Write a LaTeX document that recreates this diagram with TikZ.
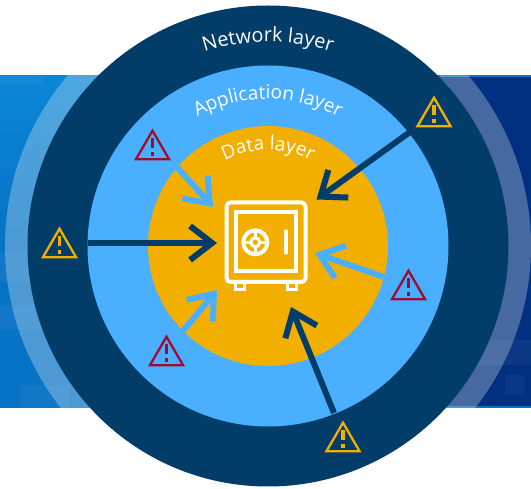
\documentclass[tikz,border=0pt]{standalone}
\usepackage{fontspec}
\setmainfont{Open Sans}
\usetikzlibrary{arrows.meta,decorations.text}
\definecolor{navy}{HTML}{023D6A}
\definecolor{skyb}{HTML}{4BAFFF}
\definecolor{gold}{HTML}{F2AF00}
\definecolor{crimson}{HTML}{9B0F2E}
\definecolor{bandL}{HTML}{0773C4}
\definecolor{bandLt}{HTML}{0B86D6}
\definecolor{bandR}{HTML}{00307F}
\tikzset{
  threat/.style={line width=6pt,-{Straight Barb[length=22pt,width=34pt,line width=6pt]}},
  outerthreat/.style={threat,draw=navy},
  innerthreat/.style={threat,draw=skyb},
  safeline/.style={draw=white,line width=4pt},
  streak/.style={fill=white,opacity=.04},
  warnicon/.pic={
    \draw[line width=2.3pt,pic actions,fill=none,miter limit=10] (-16.6,-1.2) -- (0,-29.8) -- (16.6,-1.2) -- cycle;
    \fill[pic actions,draw=none] (-1.7,-22) rectangle (1.7,-12);
    \fill[pic actions,draw=none] (-1.7,-8) rectangle (1.7,-4);
  },
  layertext/.style 2 args={decorate,decoration={text along path,text align=center,
    text={|\fontsize{#1}{#1}\selectfont\color{white}|#2}}}
}
\begin{document}
\begin{tikzpicture}[x=1pt,y=-1pt]
\useasboundingbox (0,0) rectangle (531,489);
% band
\shade[top color=bandLt,bottom color=bandL,middle color=bandL] (0,75) rectangle (268,408);
\fill[bandR] (268,75) rectangle (531,408);
\fill[streak] (0,75) rectangle (43,84);
\fill[streak] (0,252) rectangle (40,282);
\fill[streak] (0,305) rectangle (60,330);
\fill[streak] (20,385) rectangle (70,408);
\fill[streak] (470,340) rectangle (531,365);
\fill[streak] (505,375) rectangle (525,395);
\fill[bandL] (440,75) rectangle (531,77);
\fill[bandL] (440,406) rectangle (531,408);
% rings
\coordinate (c) at (268,246);
\fill[white,opacity=.28] (c) circle (263pt);
\fill[white] (0,0) rectangle (531,75);
\fill[white] (0,408) rectangle (531,489);
\fill[navy] (c) circle (240.5pt);
\fill[skyb] (c) circle (180.5pt);
\fill[gold] (c) circle (120pt);
% labels
\path[layertext={19.8}{Network layer}] (64,246) arc[start angle=180,end angle=0,radius=204pt];
\path[layertext={19}{Application layer}] (121,246) arc[start angle=180,end angle=0,radius=147pt];
\path[layertext={19}{Data layer}] (172,246) arc[start angle=180,end angle=0,radius=96pt];
% warning icons
\pic[draw=gold,fill=gold] at (434,127.5) {warnicon};
\pic[draw=gold,fill=gold] at (59.5,258.5) {warnicon};
\pic[draw=gold,fill=gold] at (343,452.5) {warnicon};
\pic[draw=crimson,fill=crimson] at (152.5,160.5) {warnicon};
\pic[draw=crimson,fill=crimson] at (408.5,300.5) {warnicon};
\pic[draw=crimson,fill=crimson] at (166.5,366.5) {warnicon};
% safe
\draw[safeline,rounded corners=4pt] (226.5,202.5) rectangle (305.5,282);
\draw[safeline] (236,212.5) rectangle (296,271.5);
\draw[safeline] (255.3,242.3) circle (12pt);
\draw[safeline,line width=3pt] (255.3,242.3) circle (4.5pt);
\draw[safeline,line width=3pt] (255.3,230.3) -- (255.3,237.8) (255.3,246.8) -- (255.3,254.3) (243.3,242.3) -- (250.8,242.3) (259.8,242.3) -- (267.3,242.3);
\draw[safeline,line width=3.2pt,line cap=round] (286,231) -- (286,253);
\draw[safeline,line width=3pt] (235.5,283) -- (235.5,289.5) -- (244.5,289.5) -- (244.5,283);
\draw[safeline,line width=3pt] (287.5,283) -- (287.5,289.5) -- (296.5,289.5) -- (296.5,283);
% arrows
\coordinate (nL) at (88,243);  \coordinate (nLt) at (217,243);
\coordinate (nR) at (410,132); \coordinate (nRt) at (316.5,199.5);
\coordinate (nB) at (334,413); \coordinate (nBt) at (291,307);
\coordinate (iA) at (177,167); \coordinate (iAt) at (213,207);
\coordinate (iB) at (183,331); \coordinate (iBt) at (217,290);
\coordinate (iC) at (384,277); \coordinate (iCt) at (315,253);
\draw[outerthreat] (nL) -- (nLt);
\draw[outerthreat] (nR) -- (nRt);
\draw[outerthreat] (nB) -- (nBt);
\draw[innerthreat] (iA) -- (iAt);
\draw[innerthreat] (iB) -- (iBt);
\draw[innerthreat] (iC) -- (iCt);
\end{tikzpicture}
\end{document}
